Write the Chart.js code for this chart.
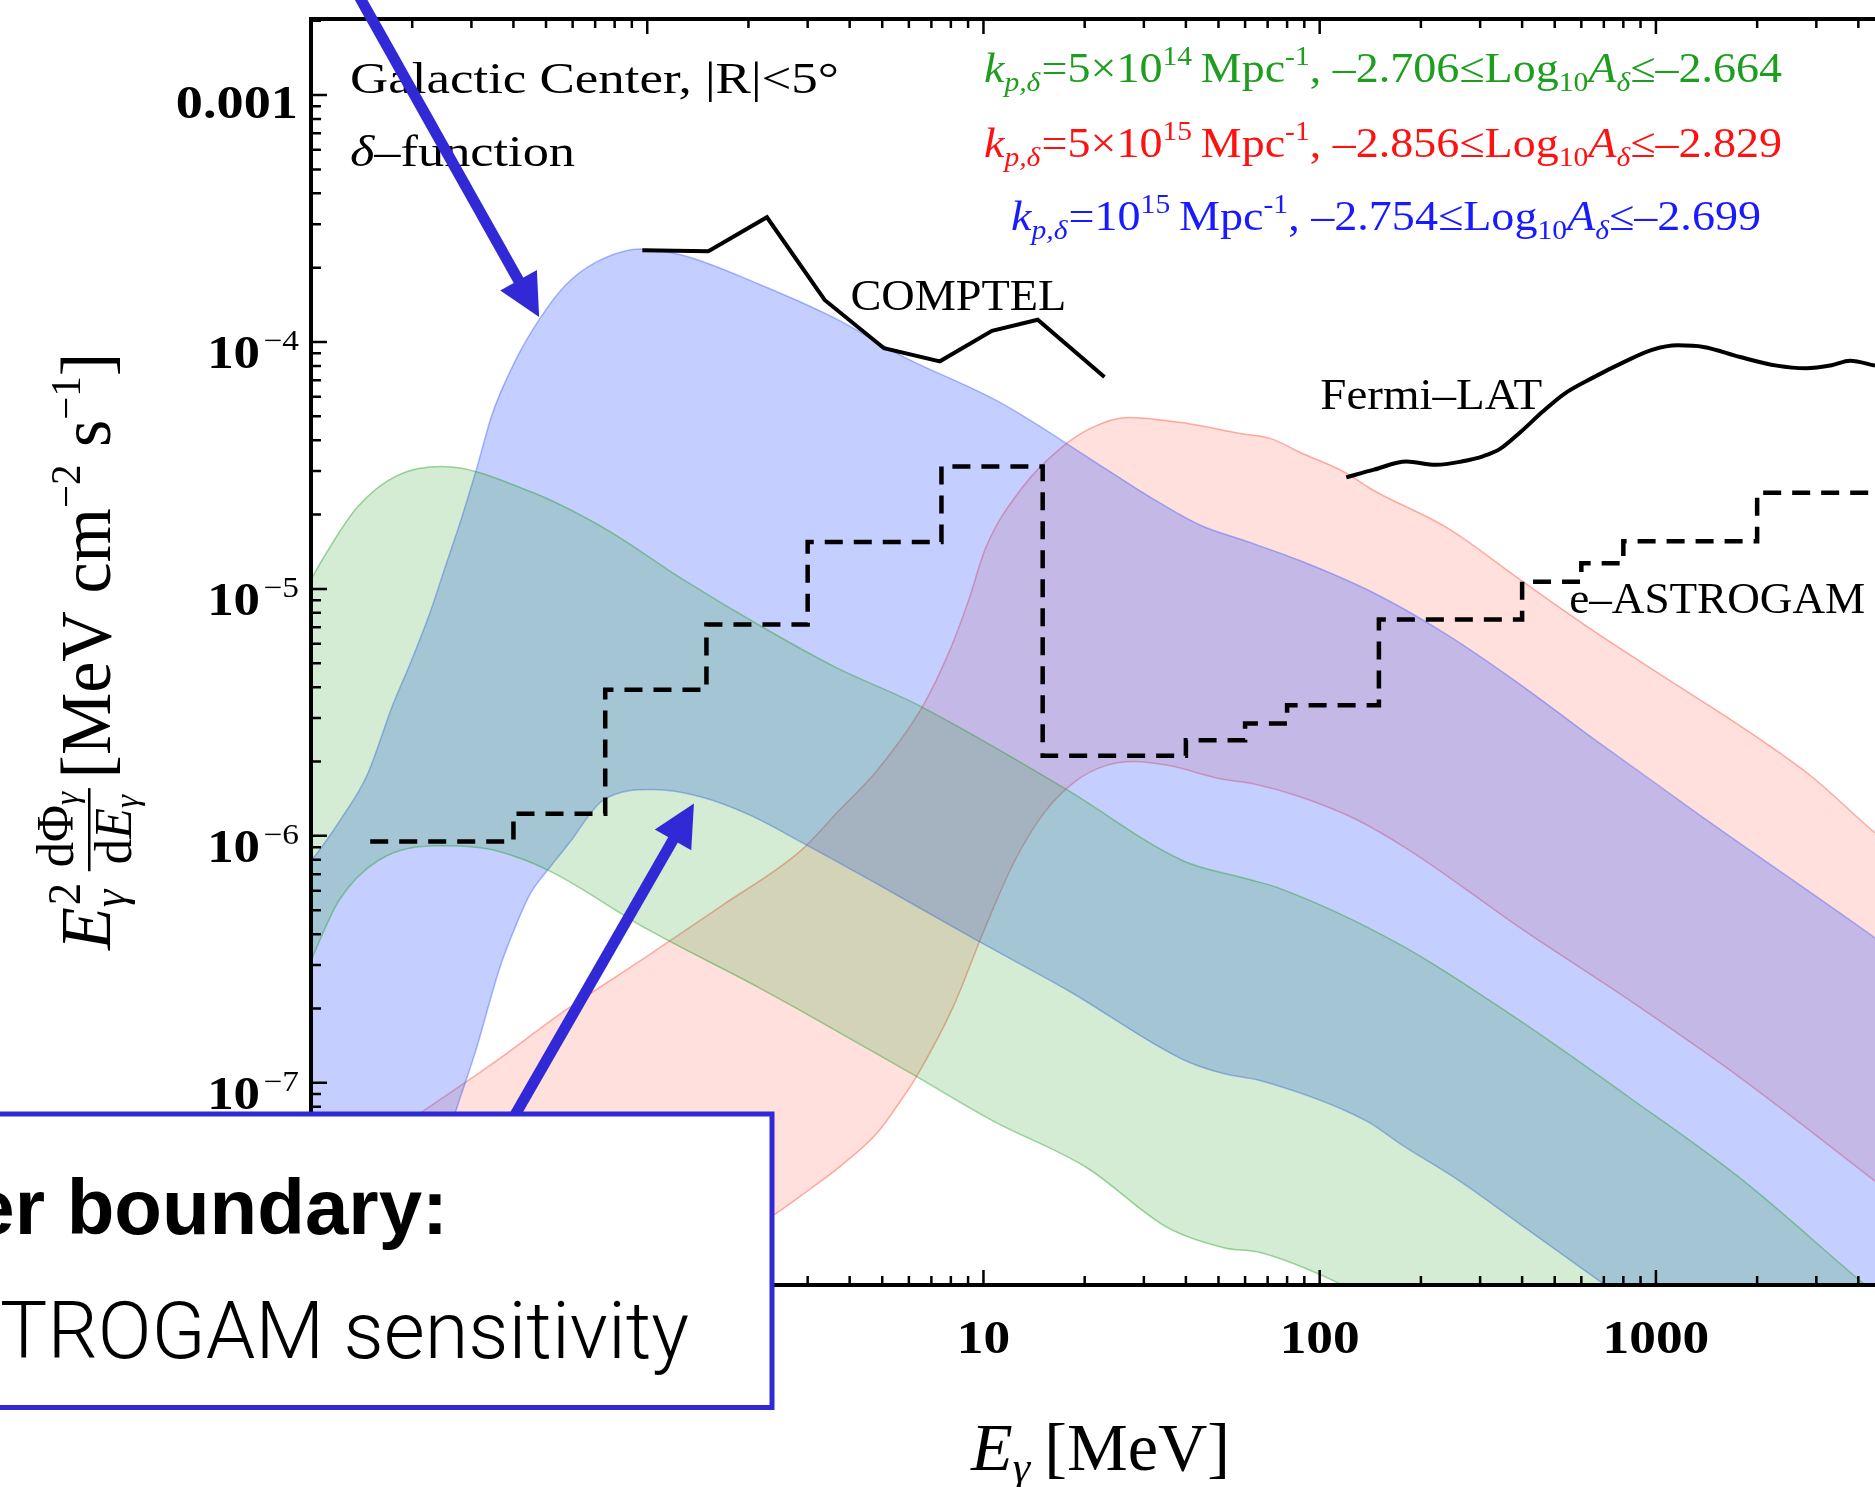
<!DOCTYPE html>
<html>
<head>
<meta charset="utf-8">
<title>Galactic Center, delta-function PBH spectra</title>
<script src="https://cdn.jsdelivr.net/npm/chart.js@4.4.1/dist/chart.umd.min.js"></script>
<style>
  html, body { margin: 0; padding: 0; background: #fff; overflow: hidden; }
  #chart { display: block; }
</style>
</head>
<body>
<canvas id="chart" width="1875" height="1487"></canvas>
<script>
// energies in MeV, fluxes E^2 dPhi/dE in MeV cm^-2 s^-1

// COMPTEL (solid)
const comptelE = [0.967, 1.52, 2.27, 3.37, 5.06, 7.42, 10.6, 14.5, 22.9];
const comptelF = [2.35e-4, 2.33e-4, 3.20e-4, 1.48e-4, 9.43e-5, 8.35e-5, 1.11e-4, 1.23e-4, 7.22e-5];

// Fermi-LAT (solid)
const fermiE = [120, 145, 181, 222, 264, 307, 344, 395, 459, 534, 652, 797, 974, 1162, 1385, 1780, 2288, 2795, 3334, 3778, 4483];
const fermiF = [2.83e-5, 3.04e-5, 3.28e-5, 3.18e-5, 3.28e-5, 3.45e-5, 3.69e-5, 4.31e-5, 5.20e-5, 6.17e-5, 7.19e-5, 8.25e-5, 9.29e-5, 9.69e-5, 9.55e-5, 8.69e-5, 8.02e-5, 7.83e-5, 8.05e-5, 8.39e-5, 8.02e-5];

// e-ASTROGAM (dashed steps, value starts at each edge)
const astroE = [0.15, 0.4, 0.75, 1.5, 3, 7.5, 15, 40, 60, 80, 150, 400, 600, 800, 2000, 6000];
const astroF = [9.5e-7, 1.23e-6, 3.91e-6, 7.17e-6, 1.55e-5, 3.13e-5, 2.11e-6, 2.44e-6, 2.85e-6, 3.38e-6, 7.52e-6, 1.07e-5, 1.27e-5, 1.56e-5, 2.45e-5, 2.45e-5];

// k = 5e14 band (green)
const greenUpE = [0.0932, 0.1, 0.115, 0.138, 0.1795, 0.2458, 0.449, 0.757, 1.28, 2.16, 3.65, 6.27, 17.4, 39.2, 59.7, 75.3, 174, 395, 838, 1780, 4070, 6100];
const greenUpF = [8.97e-6, 1.09e-5, 1.51e-5, 2.16e-5, 2.87e-5, 3.13e-5, 2.48e-5, 1.74e-5, 1.09e-5, 7.11e-6, 4.80e-6, 3.43e-6, 1.56e-6, 7.93e-7, 6.73e-7, 6.16e-7, 3.62e-7, 1.78e-7, 8.68e-8, 4.11e-8, 1.57e-8, 9.9e-9];
const greenLoE = [0.0932, 0.1, 0.121, 0.158, 0.239, 0.298, 0.356, 0.512, 0.985, 2.16, 2.86, 6.11, 10.7, 20.3, 35.3, 51.8, 66.9, 111, 151, 6100];
const greenLoF = [2.47e-7, 3.12e-7, 5.46e-7, 7.93e-7, 9.12e-7, 9.03e-7, 8.70e-7, 7.22e-7, 4.24e-7, 2.42e-7, 1.96e-7, 1.09e-7, 7.0e-8, 4.53e-8, 2.59e-8, 2.15e-8, 2.05e-8, 1.57e-8, 1.25e-8, 1e-10];

// k = 1e15 band (blue)
const blueUpE = [0.0871, 0.1, 0.1227, 0.1465, 0.1748, 0.1994, 0.2271, 0.2523, 0.2802, 0.3111, 0.3456, 0.4044, 0.4787, 0.5721, 0.7026, 0.956, 1.28, 2.16, 3.65, 5.67, 11.2, 22.3, 31.4, 44.2, 59.7, 87.6, 144, 239, 395, 664, 1353, 4484, 6100];
const blueUpF = [6.58e-7, 7.93e-7, 1.17e-6, 1.75e-6, 3.37e-6, 5.17e-6, 8.18e-6, 1.26e-5, 1.93e-5, 3.08e-5, 5.09e-5, 8.35e-5, 1.24e-4, 1.70e-4, 2.10e-4, 2.38e-4, 2.24e-4, 1.71e-4, 1.24e-4, 8.83e-5, 5.69e-5, 3.16e-5, 2.35e-5, 1.81e-5, 1.57e-5, 1.30e-5, 9.67e-6, 6.53e-6, 4.10e-6, 2.43e-6, 1.21e-6, 3.86e-7, 2.84e-7];
const blueLoE = [0.0871, 0.1406, 0.159, 0.19, 0.2164, 0.2465, 0.2732, 0.309, 0.3641, 0.4063, 0.449, 0.512, 0.584, 0.737, 1.037, 1.441, 2.03, 2.86, 4.94, 9.28, 17.9, 39.3, 51.7, 66.9, 138, 174, 261, 400, 664, 961, 6100];
const blueLoF = [1e-10, 7.45e-9, 1.13e-8, 2.18e-8, 3.35e-8, 5.29e-8, 8.13e-8, 1.35e-7, 2.92e-7, 4.32e-7, 5.83e-7, 7.43e-7, 9.29e-7, 1.39e-6, 1.54e-6, 1.44e-6, 1.21e-6, 9.46e-7, 6.28e-7, 3.86e-7, 2.36e-7, 1.24e-7, 1.09e-7, 1.02e-7, 7.0e-8, 5.65e-8, 4.0e-8, 2.64e-8, 1.61e-8, 1.11e-8, 1e-10];

// k = 5e15 band (red)
const redUpE = [0.0871, 0.1, 0.2157, 0.3447, 0.584, 0.985, 1.664, 2.858, 3.707, 4.825, 6.61, 7.98, 9.03, 10.14, 13.06, 16.94, 20.8, 26.8, 40.4, 58.1, 71.3, 87.6, 119.2, 144.3, 239, 394.8, 650.7, 1078, 1780, 2933, 4484, 6100];
const redUpF = [3.32e-8, 3.78e-8, 7.69e-8, 1.19e-7, 2.01e-7, 3.21e-7, 5.21e-7, 8.70e-7, 1.26e-6, 1.84e-6, 3.37e-6, 5.73e-6, 8.97e-6, 1.46e-5, 2.58e-5, 3.71e-5, 4.47e-5, 4.95e-5, 4.68e-5, 4.26e-5, 4.07e-5, 3.57e-5, 2.96e-5, 2.51e-5, 1.77e-5, 1.09e-5, 6.78e-6, 4.33e-6, 2.79e-6, 1.72e-6, 1.03e-6, 7.57e-7];
const redLoE = [0.0871, 0.727, 1.441, 2.40, 2.858, 3.757, 4.825, 5.666, 6.27, 8.14, 10.05, 12.39, 15.29, 18.84, 23.21, 27.92, 35.33, 51.0, 62.9, 86.1, 127.6, 185.9, 394.8, 838, 1780, 4484, 6100];
const redLoF = [1e-10, 9.86e-9, 1.86e-8, 2.94e-8, 3.48e-8, 4.60e-8, 6.26e-8, 8.44e-8, 1.04e-7, 2.04e-7, 4.16e-7, 7.93e-7, 1.26e-6, 1.67e-6, 1.93e-6, 2.00e-6, 1.93e-6, 1.70e-6, 1.63e-6, 1.45e-6, 1.17e-6, 8.70e-7, 4.24e-7, 2.15e-7, 1.05e-7, 4.0e-8, 2.89e-8];

// band legend text (green, red, blue rows)
const bandK = ['5×10', '5×10', '10'];
const bandKExp = ['14', '15', '15'];
const bandLogLow = ['–2.706', '–2.856', '–2.754'];
const bandLogHigh = ['–2.664', '–2.829', '–2.699'];
const bandTextColors = ['#1e9e1e', '#ff1111', '#1a1aff'];

// ticks
const xTickValues = [0.1, 1, 10, 100, 1000];
const xTickLabels = ['0.1', '1', '10', '100', '1000'];
const yTickValues = [1e-3, 1e-4, 1e-5, 1e-6, 1e-7];
const yTickBase = ['0.001', '10', '10', '10', '10'];
const yTickExp = ['', '−4', '−5', '−6', '−7'];

// curve labels: text, anchor energy, anchor flux (baseline-left)
const curveLabels = ['COMPTEL', 'Fermi–LAT', 'e–ASTROGAM'];
const curveLabelE = [4.02, 100.4, 552];
const curveLabelF = [1.344e-4, 5.34e-5, 8.02e-6];

// slide annotation arrows: tip energy / flux
const arrowTipE = [0.477, 1.377];
const arrowTipF = [1.263e-4, 1.353e-6];

const SERIF = '"Liberation Serif", "DejaVu Serif", serif';
const SANS = '"Liberation Sans", Arial, sans-serif';
const rm = s => s + 'px ' + SERIF;
const it = s => 'italic ' + s + 'px ' + SERIF;
const bd = s => 'bold ' + s + 'px ' + SERIF;
const BLUE_NOTE = '#3229d6';

function richText(ctx, runs, x, y, opts) {
  opts = opts || {};
  let nat = 0;
  runs.forEach(r => {
    ctx.font = r.f;
    if (!r.stack) nat += ctx.measureText(r.t).width + (r.gap || 0);
  });
  const sx = opts.width ? opts.width / nat : (opts.sx || 1);
  let x0 = x;
  if (opts.align === 'right') x0 = x - nat * sx;
  else if (opts.align === 'center') x0 = x - nat * sx / 2;
  ctx.save();
  ctx.translate(x0, y);
  ctx.scale(sx, 1);
  ctx.textAlign = 'left';
  ctx.textBaseline = 'alphabetic';
  let cx = 0;
  runs.forEach(r => {
    ctx.font = r.f;
    ctx.fillStyle = r.c || opts.color || '#000';
    ctx.fillText(r.t, cx, r.dy || 0);
    if (!r.stack) cx += ctx.measureText(r.t).width + (r.gap || 0);
  });
  ctx.restore();
}

function legendRuns(i) {
  return [
    {t: 'k', f: it(42)}, {t: 'p,δ', f: it(27), dy: 9, gap: 1},
    {t: '=' + bandK[i], f: rm(42)}, {t: bandKExp[i], f: rm(27), dy: -17, gap: 8},
    {t: 'Mpc', f: rm(42)}, {t: '-1', f: rm(27), dy: -17},
    {t: ', ' + bandLogLow[i] + '≤Log', f: rm(42)}, {t: '10', f: rm(27), dy: 9},
    {t: 'A', f: it(42)}, {t: 'δ', f: it(27), dy: 9},
    {t: '≤' + bandLogHigh[i], f: rm(42)}
  ];
}

function drawYTitle(ctx) {
  ctx.save();
  ctx.translate(110, 950);
  ctx.rotate(-Math.PI / 2);
  const w = (t, f) => { ctx.font = f; return ctx.measureText(t).width; };
  const wE = w('E', it(72));
  const wSS = Math.max(w('2', rm(46)), w('γ', it(46))) + 6;
  const wNum = w('dΦ', rm(52)) + w('γ', it(34));
  const wDen = w('d', rm(52)) + w('E', it(52)) + w('γ', it(34));
  const wFr = Math.max(wNum, wDen) + 8;
  const tail = [
    {t: '[MeV cm', f: rm(72)}, {t: '−2', f: rm(42), dy: -30},
    {t: ' s', f: rm(72)}, {t: '−1', f: rm(42), dy: -30}, {t: ']', f: rm(72)}
  ];
  let wTail = 0;
  tail.forEach(r => { wTail += w(r.t, r.f); });
  const total = wE + wSS + 8 + wFr + 10 + wTail;
  const s = 597 / total;
  ctx.scale(s, 1);
  ctx.fillStyle = '#000';
  ctx.textBaseline = 'alphabetic';
  let cx = 0;
  ctx.font = it(72); ctx.fillText('E', cx, 0); cx += wE;
  ctx.font = rm(46); ctx.fillText('2', cx + 2, -30);
  ctx.font = it(46); ctx.fillText('γ', cx, 15);
  cx += wSS + 8;
  // fraction dPhi/dE
  let nx = cx + (wFr - wNum) / 2;
  ctx.font = rm(52); ctx.fillText('dΦ', nx, -37); nx += w('dΦ', rm(52));
  ctx.font = it(34); ctx.fillText('γ', nx, -32);
  let dx = cx + (wFr - wDen) / 2;
  ctx.font = rm(52); ctx.fillText('d', dx, 21); dx += w('d', rm(52));
  ctx.font = it(52); ctx.fillText('E', dx, 21); dx += w('E', it(52));
  ctx.font = it(34); ctx.fillText('γ', dx, 28);
  ctx.fillRect(cx, -22, wFr, 2.5);
  cx += wFr + 10;
  tail.forEach(r => {
    ctx.font = r.f;
    ctx.fillText(r.t, cx, r.dy || 0);
    cx += ctx.measureText(r.t).width;
  });
  ctx.restore();
}

function drawArrow(ctx, tipX, tipY, ux, uy, len) {
  const headL = 42, headW = 21;
  const bx = tipX - ux * headL, by = tipY - uy * headL;
  ctx.strokeStyle = BLUE_NOTE;
  ctx.fillStyle = BLUE_NOTE;
  ctx.lineWidth = 11;
  ctx.lineCap = 'butt';
  ctx.beginPath();
  ctx.moveTo(tipX - ux * len, tipY - uy * len);
  ctx.lineTo(bx + ux * 3, by + uy * 3);
  ctx.stroke();
  ctx.beginPath();
  ctx.moveTo(tipX, tipY);
  ctx.lineTo(bx - uy * headW, by + ux * headW);
  ctx.lineTo(bx + uy * headW, by - ux * headW);
  ctx.closePath();
  ctx.fill();
}

const framePlugin = {
  id: 'frame',
  afterDatasetsDraw(chart) {
    const {ctx, chartArea: a, scales: {x, y}} = chart;
    ctx.save();
    ctx.strokeStyle = '#000';
    ctx.lineCap = 'butt';
    ctx.lineWidth = 2.5;
    ctx.beginPath();
    for (let d = Math.floor(Math.log10(x.min)); d <= Math.floor(Math.log10(x.max)); d++) {
      for (let m = 1; m <= 9; m++) {
        const v = m * Math.pow(10, d);
        if (v < x.min || v > x.max) continue;
        const px = x.getPixelForValue(v);
        const len = m === 1 ? 15 : 9;
        ctx.moveTo(px, a.bottom); ctx.lineTo(px, a.bottom - len);
        ctx.moveTo(px, a.top); ctx.lineTo(px, a.top + len);
      }
    }
    for (let d = Math.floor(Math.log10(y.min)); d <= Math.floor(Math.log10(y.max)); d++) {
      for (let m = 1; m <= 9; m++) {
        const v = m * Math.pow(10, d);
        if (v < y.min || v > y.max) continue;
        const py = y.getPixelForValue(v);
        const len = m === 1 ? 16 : 10;
        ctx.moveTo(a.left, py); ctx.lineTo(a.left + len, py);
      }
    }
    ctx.stroke();
    ctx.lineWidth = 4;
    ctx.beginPath();
    ctx.moveTo(a.right + 5, a.top);
    ctx.lineTo(a.left, a.top);
    ctx.lineTo(a.left, a.bottom);
    ctx.lineTo(a.right + 5, a.bottom);
    ctx.stroke();

    // tick labels
    xTickValues.forEach((v, i) => {
      richText(ctx, [{t: xTickLabels[i], f: bd(46)}], x.getPixelForValue(v), a.bottom + 68, {align: 'center', sx: 1.16});
    });
    yTickValues.forEach((v, i) => {
      const py = y.getPixelForValue(v);
      if (!yTickExp[i]) {
        richText(ctx, [{t: yTickBase[i], f: bd(46)}], 298, py + 23, {align: 'right', sx: 1.18});
      } else {
        richText(ctx, [{t: yTickBase[i], f: bd(46), gap: 3}, {t: yTickExp[i], f: rm(29), dy: -18}], 299, py + 26, {align: 'right', sx: 1.15});
      }
    });

    // axis titles
    richText(ctx, [{t: 'E', f: it(68)}, {t: 'γ', f: it(44), dy: 12, gap: 14}, {t: '[MeV]', f: rm(68)}], 971, 1470, {width: 259});
    drawYTitle(ctx);

    // panel text
    richText(ctx, [{t: 'Galactic Center, |R|<5°', f: rm(45)}], 350, 93, {width: 489});
    richText(ctx, [{t: 'δ', f: it(45)}, {t: '–function', f: rm(45)}], 350, 166, {width: 225});
    const legendPos = [[984, 82, 798], [984, 157, 798], [1011, 230, 750]];
    legendPos.forEach((p, i) => {
      richText(ctx, legendRuns(i), p[0], p[1], {width: p[2], color: bandTextColors[i]});
    });
    const labelW = [216, 222, 296];
    curveLabels.forEach((t, i) => {
      richText(ctx, [{t, f: rm(44)}], x.getPixelForValue(curveLabelE[i]), y.getPixelForValue(curveLabelF[i]), {width: labelW[i]});
    });
    ctx.restore();
  }
};

const notePlugin = {
  id: 'note',
  afterDraw(chart) {
    const {ctx, scales: {x, y}} = chart;
    ctx.save();
    drawArrow(ctx, x.getPixelForValue(arrowTipE[0]), y.getPixelForValue(arrowTipF[0]), 0.4896, 0.8719, 400);
    drawArrow(ctx, x.getPixelForValue(arrowTipE[1]), y.getPixelForValue(arrowTipF[1]), 0.498, -0.867, 400);
    // callout box
    ctx.fillStyle = '#fff';
    ctx.fillRect(-20, 1114, 792, 293.5);
    ctx.strokeStyle = BLUE_NOTE;
    ctx.lineWidth = 5;
    ctx.strokeRect(-20, 1114, 792, 293.5);
    ctx.fillStyle = '#000';
    ctx.textAlign = 'left';
    ctx.textBaseline = 'alphabetic';
    ctx.font = 'bold 78px ' + SANS;
    ctx.fillText('Lower boundary:', 448 - ctx.measureText('Lower boundary:').width, 1234);
    // second line: "TROGAM sensitivity" spans x 0..689 in the slide
    ctx.font = '300 79px Roboto, ' + SANS;
    const full = 'e–ASTROGAM sensitivity';
    const sx = 689 / ctx.measureText('TROGAM sensitivity').width;
    ctx.save();
    ctx.translate(689 - sx * ctx.measureText(full).width, 1358);
    ctx.scale(sx, 1);
    ctx.fillText(full, 0, 0);
    ctx.restore();
    ctx.restore();
  }
};

const pts = (xs, ys) => xs.map((v, i) => ({x: v, y: ys[i]}));
const GREEN = 'rgba(34, 160, 34, ', BLUE = 'rgba(60, 92, 255, ', RED = 'rgba(255, 70, 50, ';

function band(xs, ys, base, fillAlpha, order, fill) {
  return {
    data: pts(xs, ys),
    borderColor: base + '0.42)',
    backgroundColor: base + fillAlpha + ')',
    borderWidth: 1.5,
    pointRadius: 0,
    cubicInterpolationMode: 'monotone',
    fill: fill,
    order: order
  };
}

const ctx = document.getElementById('chart').getContext('2d');
const chart = new Chart(ctx, {
  type: 'line',
  data: {
    datasets: [
      {label: 'COMPTEL', data: pts(comptelE, comptelF), borderColor: '#000', borderWidth: 4, pointRadius: 0, tension: 0, fill: false, order: 0},
      {label: 'Fermi-LAT', data: pts(fermiE, fermiF), borderColor: '#000', borderWidth: 4, pointRadius: 0, cubicInterpolationMode: 'monotone', fill: false, order: 0},
      {label: 'e-ASTROGAM', data: pts(astroE, astroF), borderColor: '#000', borderWidth: 4.5, borderDash: [18, 11], pointRadius: 0, stepped: 'before', fill: false, order: 0},
      band(greenUpE, greenUpF, GREEN, 0.2, 1, '+1'),
      band(greenLoE, greenLoF, GREEN, 0.2, 1, false),
      band(blueUpE, blueUpF, BLUE, 0.3, 2, '+1'),
      band(blueLoE, blueLoF, BLUE, 0.3, 2, false),
      band(redUpE, redUpF, RED, 0.17, 3, '+1'),
      band(redLoE, redLoF, RED, 0.17, 3, false)
    ]
  },
  options: {
    responsive: false,
    animation: false,
    devicePixelRatio: 1,
    layout: {padding: {left: 311, top: 19, right: 0, bottom: 202}},
    plugins: {legend: {display: false}, tooltip: {enabled: false}},
    elements: {line: {capBezierPoints: false}},
    scales: {
      x: {type: 'logarithmic', min: 0.1, max: 4483, display: false, grid: {display: false, drawTicks: false}},
      y: {type: 'logarithmic', min: 1.518e-8, max: 2.032e-3, display: false, grid: {display: false, drawTicks: false}}
    }
  },
  plugins: [framePlugin, notePlugin]
});
</script>
</body>
</html>
